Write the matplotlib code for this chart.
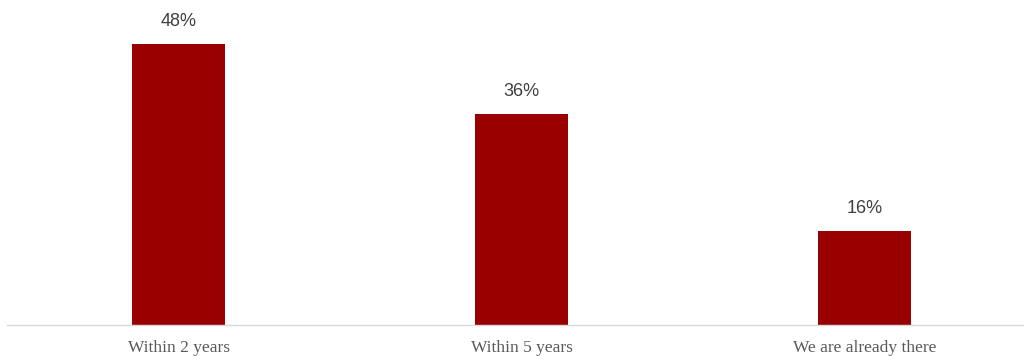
import matplotlib
matplotlib.use('Agg')
import matplotlib.pyplot as plt

categories = ['Within 2 years', 'Within 5 years', 'We are already there']
values = [48, 36, 16]
labels = ['48%', '36%', '16%']

fig = plt.figure(figsize=(10.24, 3.56), dpi=100)
ax = fig.add_axes([7/1024, 31/356, 1 - 7/1024, 1 - 31/356])

x = range(len(categories))
ax.bar(x, values, width=0.272, color='#990000', zorder=2)

for xi, v, lab in zip(x, values, labels):
    ax.annotate(lab, (xi, v), xytext=(0, 10), textcoords='offset points',
                ha='center', va='bottom', fontsize=13,
                family='Liberation Sans', color='#404040')

ax.set_xlim(-0.501, 2.464)
ax.set_ylim(0, 55.5)
ax.set_xticks(list(x))
ax.set_xticklabels(categories, family='Liberation Serif', fontsize=12.5, color='#595959')
ax.tick_params(axis='x', length=0, pad=10.5)
ax.set_yticks([])
for s in ['top', 'right', 'left']:
    ax.spines[s].set_visible(False)
ax.spines['bottom'].set_color('#d9d9d9')
ax.spines['bottom'].set_linewidth(1)

fig.savefig('out.png', dpi=100)
